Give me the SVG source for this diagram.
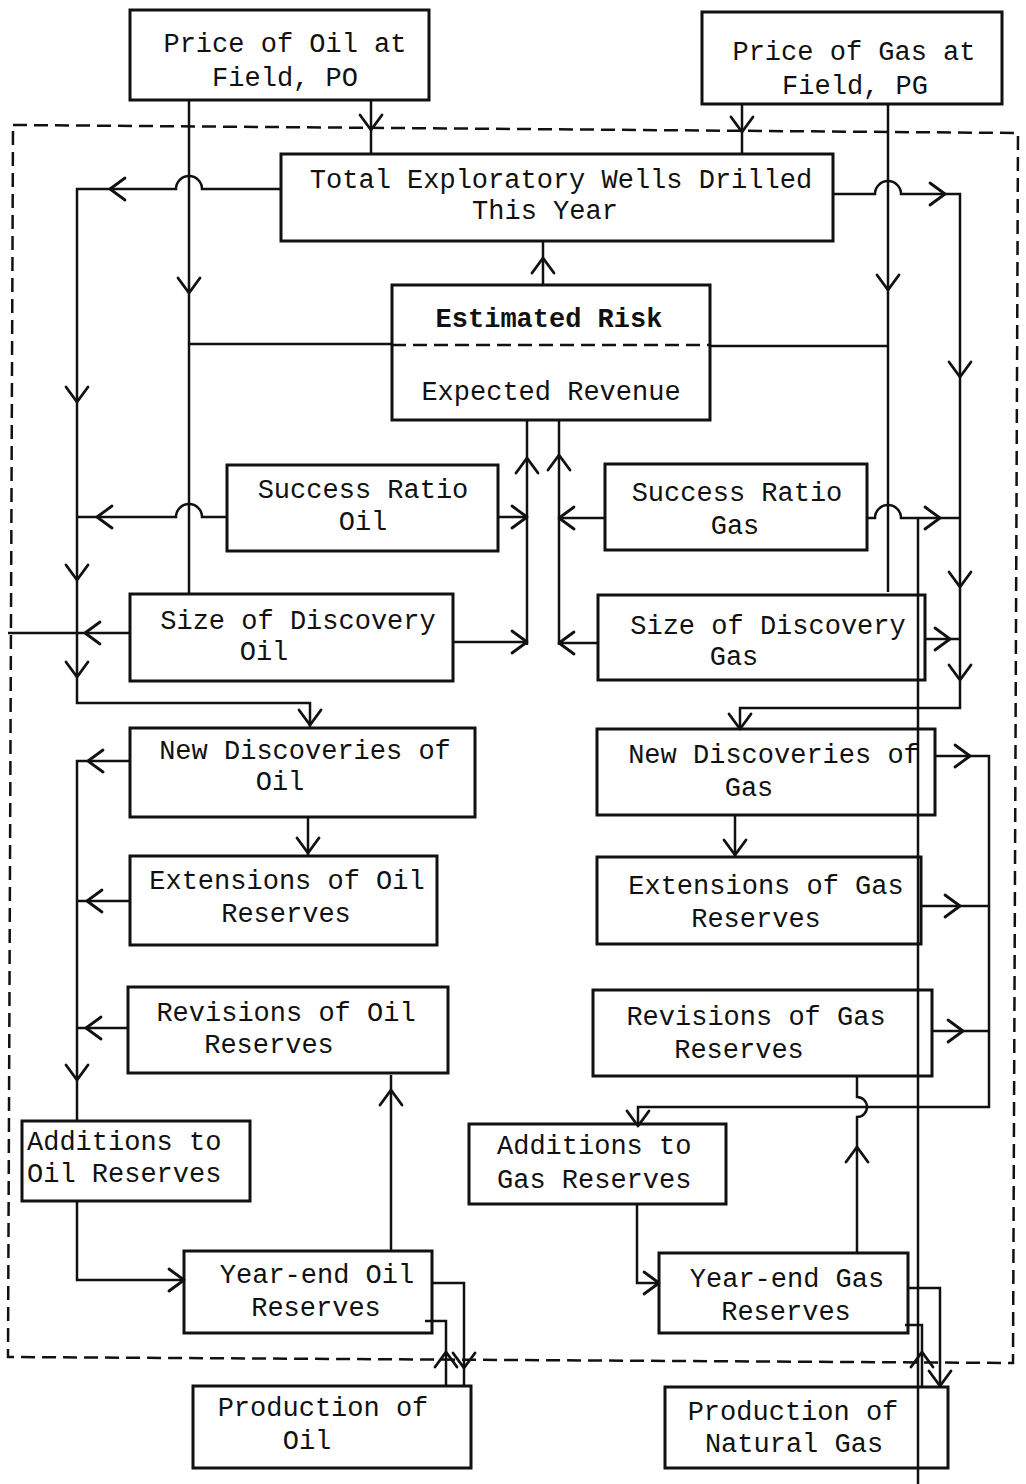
<svg xmlns="http://www.w3.org/2000/svg" xmlns:xlink="http://www.w3.org/1999/xlink" width="1026" height="1484" viewBox="0 0 1026 1484">
<style>
.box{fill:none;stroke:#111;stroke-width:3}
.t{font-family:"Liberation Mono","Courier New",monospace;font-size:27px;fill:#111;text-anchor:middle}
.ts{font-family:"Liberation Mono","Courier New",monospace;font-size:27px;fill:#111;text-anchor:start}
.b{font-weight:bold}
.c{fill:none;stroke:#111;stroke-width:2.5;stroke-linejoin:miter}
.ah{fill:none;stroke:#111;stroke-width:2.8;stroke-linecap:round;stroke-linejoin:round}
.dash{fill:none;stroke:#111;stroke-width:2.5;stroke-dasharray:14,7}
</style>
<defs>
<path id="ah" class="ah" d="M-15,-11 L0,0 L-15,11"/>
</defs>
<rect width="1026" height="1484" fill="#fff"/>
<path class="dash" d="M13,125 L1018,133 L1013,1363 L8,1357 Z"/>

<g id="connectors">
<path class="c" d="M371,100 V154"/>
<use xlink:href="#ah" transform="translate(371,130) rotate(90)"/>
<path class="c" d="M189,100 V595"/>
<use xlink:href="#ah" transform="translate(189,293) rotate(90)"/>
<path class="c" d="M189,344 H392"/>
<path class="c" d="M742,104 V154"/>
<use xlink:href="#ah" transform="translate(742,132) rotate(90)"/>
<path class="c" d="M888,104 V592"/>
<use xlink:href="#ah" transform="translate(888,290) rotate(90)"/>
<path class="c" d="M710,346 H888"/>
<path class="c" d="M281,189 H202 A13,13 0 0 0 176,189 H77 V703 H310 V727"/>
<use xlink:href="#ah" transform="translate(110,189) rotate(180)"/>
<use xlink:href="#ah" transform="translate(77,402) rotate(90)"/>
<use xlink:href="#ah" transform="translate(77,580) rotate(90)"/>
<use xlink:href="#ah" transform="translate(77,677) rotate(90)"/>
<use xlink:href="#ah" transform="translate(310,725) rotate(90)"/>
<path class="c" d="M833,194 H875 A13,13 0 0 1 901,194 H960 V708 H740 V729"/>
<use xlink:href="#ah" transform="translate(945,194)"/>
<use xlink:href="#ah" transform="translate(960,377) rotate(90)"/>
<use xlink:href="#ah" transform="translate(960,587) rotate(90)"/>
<use xlink:href="#ah" transform="translate(960,680) rotate(90)"/>
<use xlink:href="#ah" transform="translate(740,729) rotate(90)"/>
<path class="c" d="M543,285 V242"/>
<use xlink:href="#ah" transform="translate(543,258) rotate(-90)"/>
<path class="c" d="M527,421 V645"/>
<use xlink:href="#ah" transform="translate(527,458) rotate(-90)"/>
<path class="c" d="M498,517 H527"/>
<use xlink:href="#ah" transform="translate(527,517)"/>
<path class="c" d="M453,642 H527"/>
<use xlink:href="#ah" transform="translate(527,642)"/>
<path class="c" d="M559,421 V645"/>
<use xlink:href="#ah" transform="translate(559,455) rotate(-90)"/>
<path class="c" d="M605,518 H559"/>
<use xlink:href="#ah" transform="translate(559,518) rotate(180)"/>
<path class="c" d="M598,643 H559"/>
<use xlink:href="#ah" transform="translate(559,643) rotate(180)"/>
<path class="c" d="M227,517 H202 A13,13 0 0 0 176,517 H77"/>
<use xlink:href="#ah" transform="translate(97,517) rotate(180)"/>
<path class="c" d="M867,518 H875 A13,13 0 0 1 901,518 H960"/>
<use xlink:href="#ah" transform="translate(940,518)"/>
<path class="c" d="M918,518 V1484"/>
<path class="c" d="M130,633 H8"/>
<use xlink:href="#ah" transform="translate(85,633) rotate(180)"/>
<path class="c" d="M925,639 H960"/>
<use xlink:href="#ah" transform="translate(950,639)"/>
<path class="c" d="M130,761 H77 V1121"/>
<use xlink:href="#ah" transform="translate(88,761) rotate(180)"/>
<use xlink:href="#ah" transform="translate(77,1080) rotate(90)"/>
<path class="c" d="M130,901 H77"/>
<use xlink:href="#ah" transform="translate(87,901) rotate(180)"/>
<path class="c" d="M128,1028 H77"/>
<use xlink:href="#ah" transform="translate(86,1028) rotate(180)"/>
<path class="c" d="M308,817 V856"/>
<use xlink:href="#ah" transform="translate(308,853) rotate(90)"/>
<path class="c" d="M735,815 V857"/>
<use xlink:href="#ah" transform="translate(735,855) rotate(90)"/>
<path class="c" d="M935,756 H989 V1107 H638 V1124"/>
<use xlink:href="#ah" transform="translate(970,756)"/>
<use xlink:href="#ah" transform="translate(638,1126) rotate(90)"/>
<path class="c" d="M921,906 H989"/>
<use xlink:href="#ah" transform="translate(960,906)"/>
<path class="c" d="M932,1031 H989"/>
<use xlink:href="#ah" transform="translate(963,1031)"/>
<path class="c" d="M857,1253 V1117 A10,10 0 0 0 857,1097 V1076"/>
<use xlink:href="#ah" transform="translate(857,1147) rotate(-90)"/>
<path class="c" d="M77,1201 V1280 H184"/>
<use xlink:href="#ah" transform="translate(184,1280)"/>
<path class="c" d="M391,1251 V1075"/>
<use xlink:href="#ah" transform="translate(391,1090) rotate(-90)"/>
<path class="c" d="M432,1283 H464 V1386"/>
<use xlink:href="#ah" transform="translate(464,1368) rotate(90)"/>
<path class="c" d="M446,1386 V1321 H425"/>
<use xlink:href="#ah" transform="translate(446,1352) rotate(-90)"/>
<path class="c" d="M637,1204 V1283 H659"/>
<use xlink:href="#ah" transform="translate(659,1283)"/>
<path class="c" d="M908,1288 H940 V1387"/>
<use xlink:href="#ah" transform="translate(940,1386) rotate(90)"/>
<path class="c" d="M922,1387 V1325 H905"/>
<use xlink:href="#ah" transform="translate(922,1352) rotate(-90)"/>
</g>

<g id="price-oil">
<rect class="box" x="130" y="10" width="299" height="90"/>
<text class="t" x="285" y="52">Price of Oil at</text>
<text class="t" x="285" y="86">Field, PO</text>
</g>
<g id="price-gas">
<rect class="box" x="702" y="12" width="300" height="92"/>
<text class="t" x="854" y="60">Price of Gas at</text>
<text class="t" x="855" y="94">Field, PG</text>
</g>
<g id="total-wells">
<rect class="box" x="281" y="154" width="552" height="87"/>
<text class="t" x="561" y="188">Total Exploratory Wells Drilled</text>
<text class="t" x="545" y="219">This Year</text>
</g>
<g id="risk-revenue">
<rect class="box" x="392" y="285" width="318" height="135"/>
<path class="dash" d="M392,345 H710"/>
<text class="t b" x="549" y="327">Estimated Risk</text>
<text class="t" x="551" y="400">Expected Revenue</text>
</g>
<g id="success-oil">
<rect class="box" x="227" y="465" width="271" height="86"/>
<text class="t" x="363" y="498">Success Ratio</text>
<text class="t" x="363" y="530">Oil</text>
</g>
<g id="success-gas">
<rect class="box" x="605" y="464" width="262" height="86"/>
<text class="t" x="737" y="501">Success Ratio</text>
<text class="t" x="735" y="534">Gas</text>
</g>
<g id="size-oil">
<rect class="box" x="130" y="594" width="323" height="87"/>
<text class="t" x="298" y="629">Size of Discovery</text>
<text class="t" x="264" y="660">Oil</text>
</g>
<g id="size-gas">
<rect class="box" x="598" y="595" width="327" height="85"/>
<text class="t" x="768" y="634">Size of Discovery</text>
<text class="t" x="734" y="665">Gas</text>
</g>
<g id="new-oil">
<rect class="box" x="130" y="728" width="345" height="89"/>
<text class="t" x="305" y="759">New Discoveries of</text>
<text class="t" x="280" y="790">Oil</text>
</g>
<g id="new-gas">
<rect class="box" x="597" y="729" width="338" height="86"/>
<text class="t" x="774" y="763">New Discoveries of</text>
<text class="t" x="749" y="796">Gas</text>
</g>
<g id="ext-oil">
<rect class="box" x="130" y="856" width="307" height="89"/>
<text class="t" x="287" y="889">Extensions of Oil</text>
<text class="t" x="286" y="922">Reserves</text>
</g>
<g id="ext-gas">
<rect class="box" x="597" y="857" width="324" height="87"/>
<text class="t" x="766" y="894">Extensions of Gas</text>
<text class="t" x="756" y="927">Reserves</text>
</g>
<g id="rev-oil">
<rect class="box" x="128" y="987" width="320" height="86"/>
<text class="t" x="286" y="1021">Revisions of Oil</text>
<text class="t" x="269" y="1053">Reserves</text>
</g>
<g id="rev-gas">
<rect class="box" x="593" y="990" width="339" height="86"/>
<text class="t" x="756" y="1025">Revisions of Gas</text>
<text class="t" x="739" y="1058">Reserves</text>
</g>
<g id="add-oil">
<rect class="box" x="22" y="1121" width="228" height="80"/>
<text class="ts" x="27" y="1150">Additions to</text>
<text class="ts" x="27" y="1182">Oil Reserves</text>
</g>
<g id="add-gas">
<rect class="box" x="469" y="1124" width="257" height="80"/>
<text class="ts" x="497" y="1154">Additions to</text>
<text class="ts" x="497" y="1188">Gas Reserves</text>
</g>
<g id="yearend-oil">
<rect class="box" x="184" y="1251" width="248" height="82"/>
<text class="t" x="317" y="1283">Year-end Oil</text>
<text class="t" x="316" y="1316">Reserves</text>
</g>
<g id="yearend-gas">
<rect class="box" x="659" y="1253" width="249" height="80"/>
<text class="t" x="787" y="1287">Year-end Gas</text>
<text class="t" x="786" y="1320">Reserves</text>
</g>
<g id="prod-oil">
<rect class="box" x="193" y="1386" width="278" height="82"/>
<text class="t" x="323" y="1416">Production of</text>
<text class="t" x="307" y="1449">Oil</text>
</g>
<g id="prod-gas">
<rect class="box" x="665" y="1387" width="283" height="81"/>
<text class="t" x="793" y="1420">Production of</text>
<text class="t" x="794" y="1452">Natural Gas</text>
</g>
</svg>
